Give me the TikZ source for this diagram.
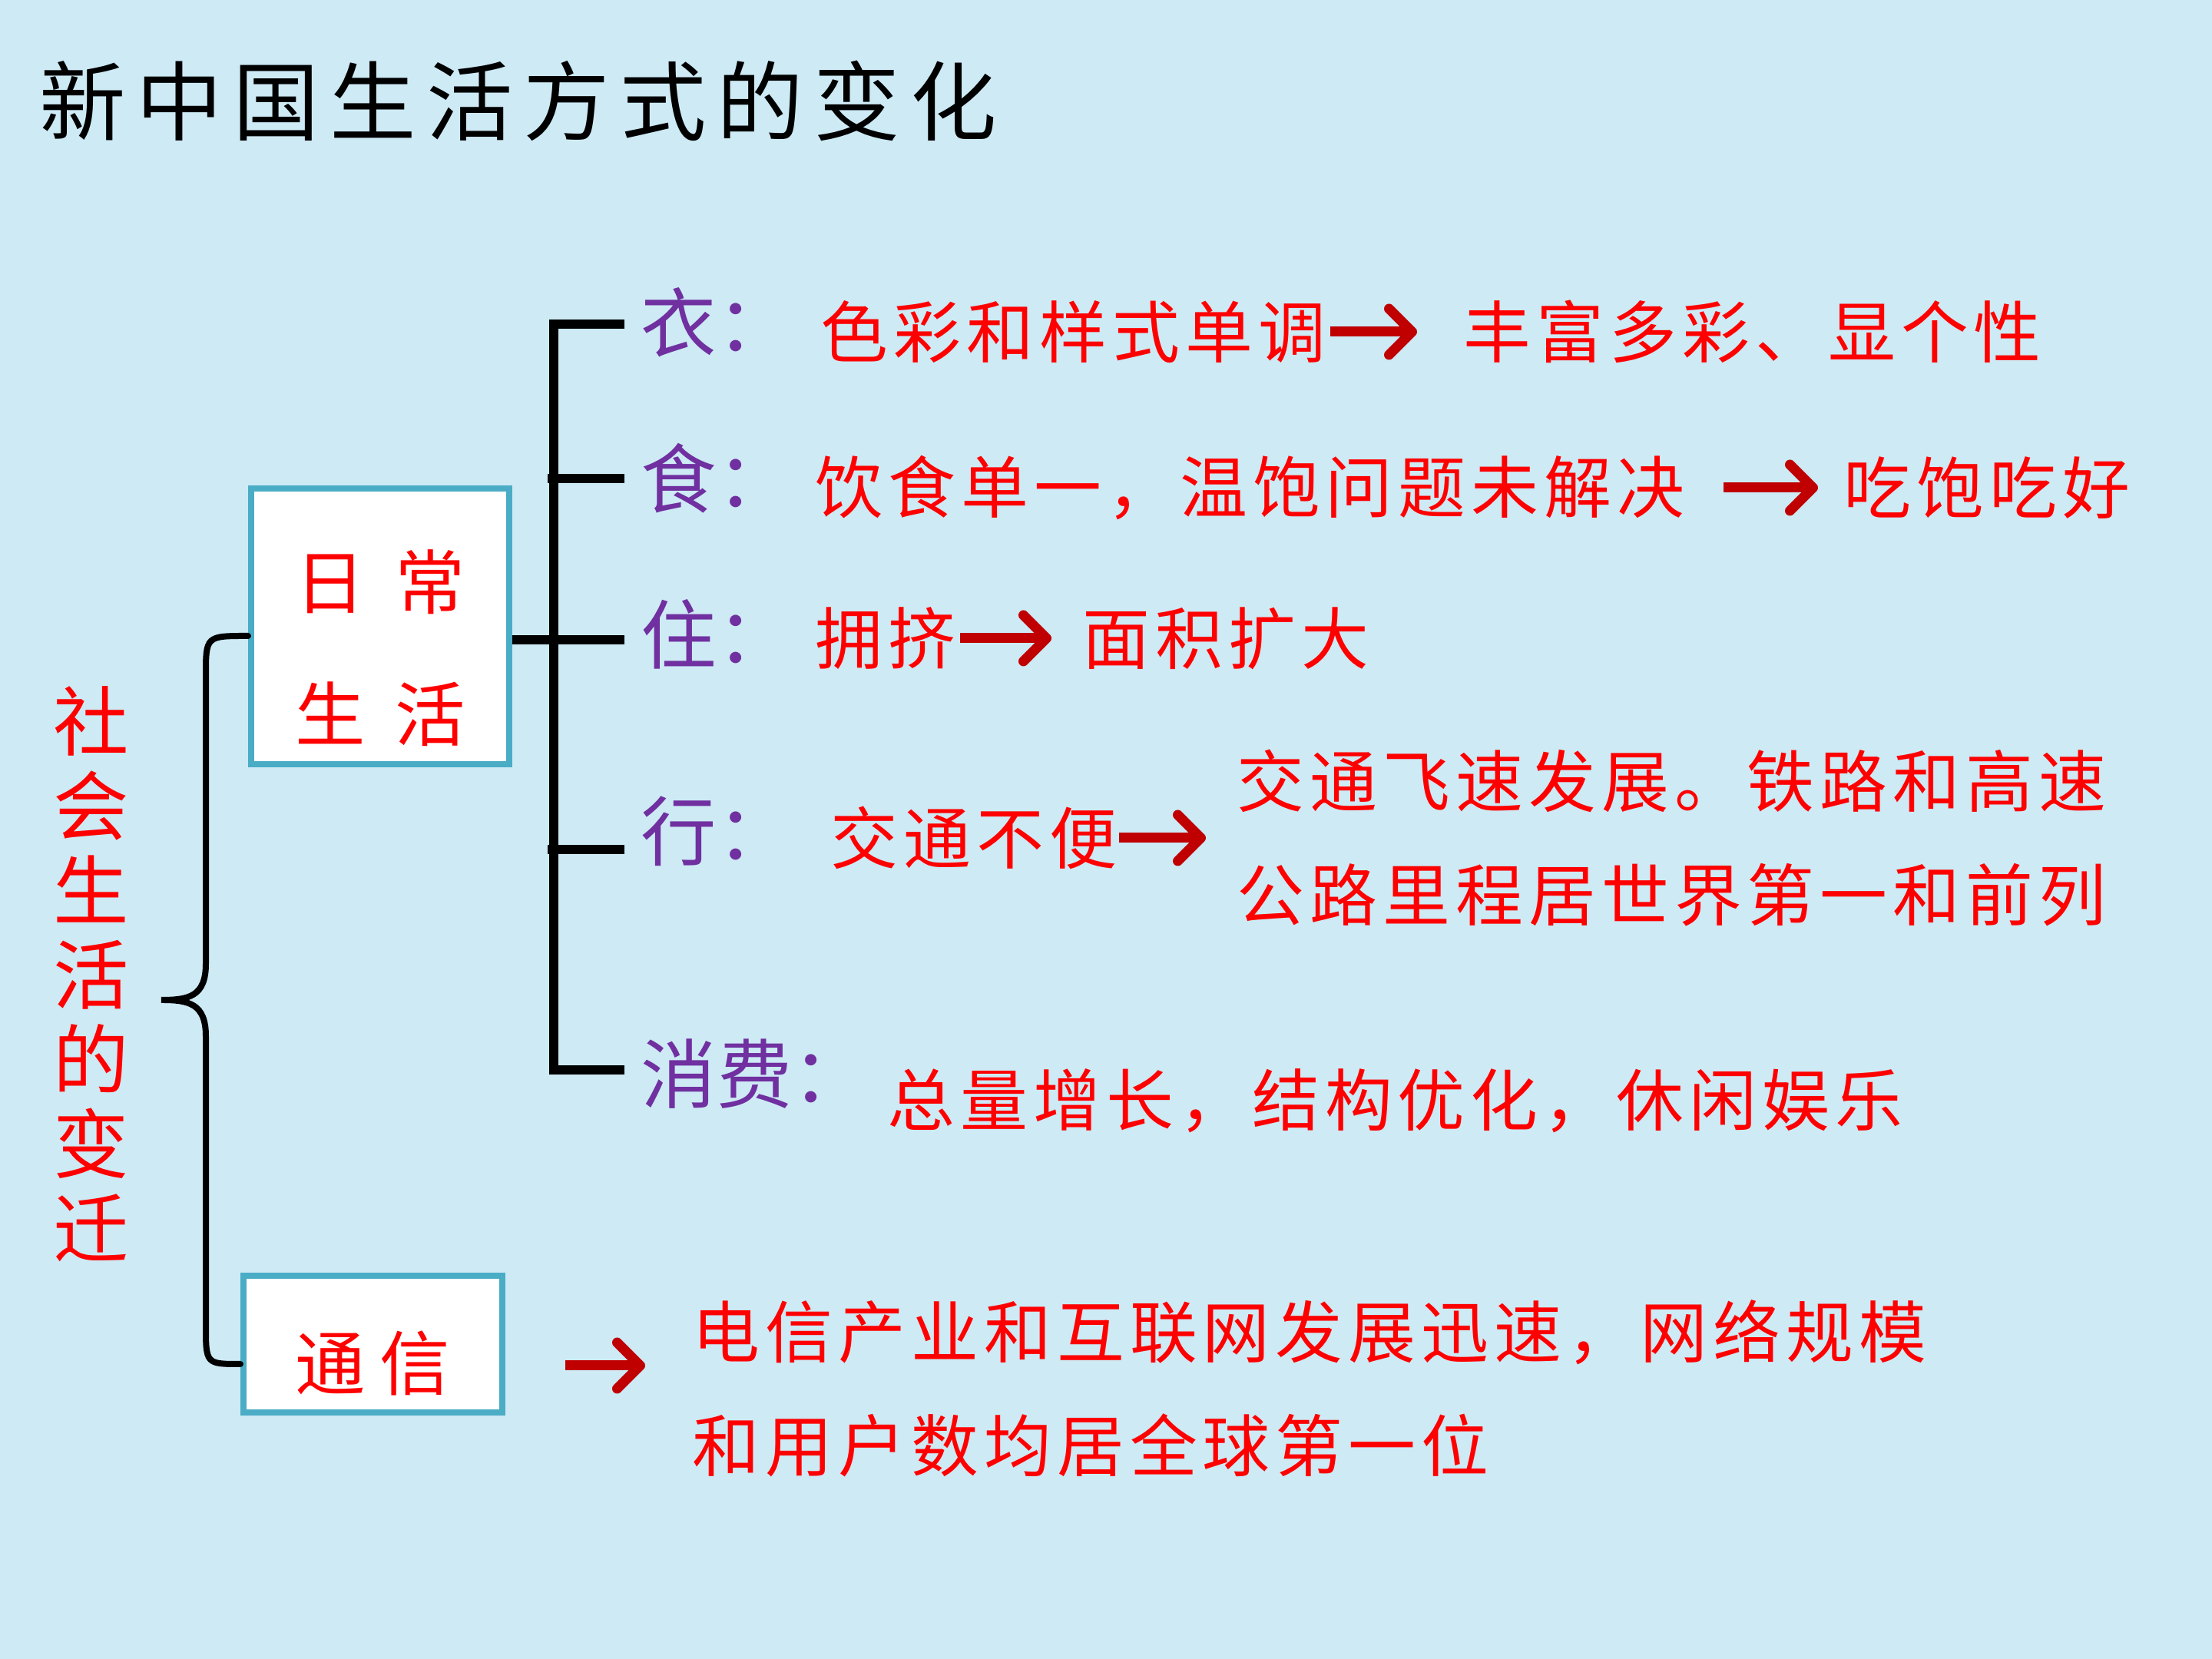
\documentclass[tikz,border=0pt]{standalone}
\usepackage{fontspec}
\setmainfont{Noto Sans CJK SC}
\newfontfamily\titlefont[LetterSpace=12]{Noto Sans CJK SC}
\newfontfamily\hongfont[LetterSpace=8]{Noto Sans CJK SC}
\newfontfamily\kuangfont[LetterSpace=20]{Noto Sans CJK SC}
\usepackage{tikz}
\usetikzlibrary{arrows.meta, calc}
\definecolor{bgblue}{RGB}{205,234,245}
\definecolor{boxblue}{RGB}{75,172,198}
\definecolor{zise}{RGB}{112,48,160}
\definecolor{shenhong}{RGB}{192,0,0}

\begin{document}
\begin{tikzpicture}[
  itembox/.style={
    rectangle, draw=boxblue, line width=0.08cm, fill=white,
    text=red, font=\kuangfont\fontsize{26pt}{49pt}\selectfont,
    align=center, inner sep=0pt
  },
  catlabel/.style={
    anchor=west, inner sep=0pt, text=zise,
    font=\fontsize{28pt}{32pt}\selectfont
  },
  content/.style={
    anchor=west, inner sep=0pt, text=red, align=left,
    font=\hongfont\fontsize{25pt}{42pt}\selectfont
  },
  chgarr/.style={
    -{Straight Barb[length=0.3cm, width=0.6cm, round]},
    line width=0.13cm, draw=shenhong
  },
  treeline/.style={line width=0.12cm, draw=black},
  bracepath/.style={line width=0.08cm, draw=black, line cap=round}
]
\fill[bgblue] (0,0) rectangle (28.8,21.6);

\node[anchor=west, inner sep=0pt, font=\titlefont\fontsize{32pt}{36pt}\selectfont] (title) at (0.51,20.29) {新中国生活方式的变化};

\node[itembox, minimum width=3.36cm, minimum height=3.59cm] (riChang) at (4.95,13.44) {\rule{0pt}{1.32cm}日 常\\生 活};
\node[itembox, minimum width=3.37cm, minimum height=1.78cm] (tongXin) at (4.855,4.10) {\rule{0pt}{1.26cm}通信};
\node[text=red, align=center, inner sep=0pt, font=\fontsize{28pt}{31.3pt}\selectfont] (bianQian) at (1.19,8.92) {社\\会\\生\\活\\的\\变\\迁};

\draw[bracepath] ([yshift=-0.12cm]riChang.west) .. controls (2.68,13.32) .. (2.68,12.8) -- (2.68,9.05)
  .. controls (2.68,8.62) and (2.45,8.58) .. (2.10,8.58)
  .. controls (2.45,8.58) and (2.68,8.54) .. (2.68,8.11) -- (2.68,4.35)
  .. controls (2.68,3.84) .. ([yshift=-0.26cm]tongXin.west);

\coordinate (tYi)   at (8.13,17.38);
\coordinate (tShi)  at (8.13,15.37);
\coordinate (tZhu)  at (8.13,13.27);
\coordinate (tXing) at (8.13,10.54);
\coordinate (tXf)   at (8.13,7.67);

\draw[treeline] (tYi) -- ++(-0.92,0) |- (tXf);
\draw[treeline] (tShi) -- ++(-1.0,0);
\draw[treeline] (tXing) -- ++(-1.0,0);
\draw[treeline] (riChang.east |- tZhu) -- (tZhu);

\node[catlabel] (yiLbl)   at (8.34,17.40) {衣：};
\node[catlabel] (shiLbl)  at (8.34,15.37) {食：};
\node[catlabel] (zhuLbl)  at (8.34,13.34) {住：};
\node[catlabel] (xingLbl) at (8.34,10.78) {行：};
\node[catlabel] (xfLbl)   at (8.34,7.62)  {消费：};

\node[content] (yiA)   at (10.68,17.28) {色彩和样式单调};
\node[content] (yiB)   at (19.05,17.28) {丰富多彩、显个性};
\node[content] (shiA)  at (10.61,15.25) {饮食单一，温饱问题未解决};
\node[content] (shiB)  at (24.00,15.25) {吃饱吃好};
\node[content] (zhuA)  at (10.61,13.29) {拥挤};
\node[content] (zhuB)  at (14.09,13.29) {面积扩大};
\node[content] (xingA) at (10.81,10.69) {交通不便};
\node[content] (xingB) at (16.10,10.69) {交通飞速发展。铁路和高速\\公路里程居世界第一和前列};
\node[content] (xfA)   at (11.55,7.27)  {总量增长，结构优化，休闲娱乐};
\node[content] (txA)   at (9.01,3.52)   {电信产业和互联网发展迅速，网络规模\\和用户数均居全球第一位};

\draw[chgarr, shorten <=0.05cm, shorten >=0.6cm] (yiA.east) -- (yiB.west);
\draw[chgarr, shorten <=0.5cm, shorten >=0.33cm] (shiA.east) -- (shiB.west);
\draw[chgarr, shorten <=0.05cm, shorten >=0.4cm] (zhuA.east) -- (zhuB.west);
\draw[chgarr, shorten <=0.02cm, shorten >=0.4cm] (xingA.east) -- (xingB.west);
\draw[chgarr, shorten <=0.78cm, shorten >=0.61cm] ([yshift=-0.28cm]tongXin.east) -- ([yshift=0.3cm]txA.west);
\end{tikzpicture}
\end{document}
